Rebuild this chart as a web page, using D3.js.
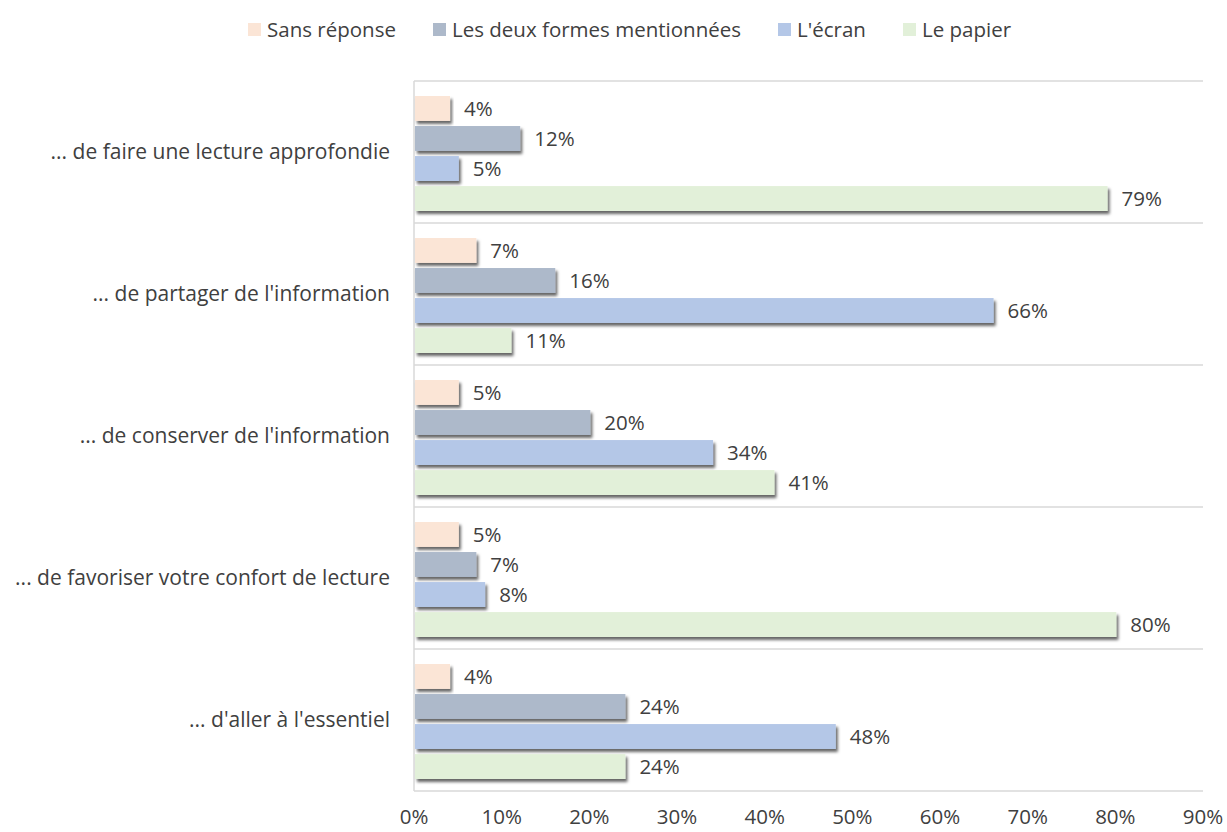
<!DOCTYPE html>
<html>
<head>
<meta charset="utf-8">
<script src="https://cdn.jsdelivr.net/npm/d3@7"></script>
<style>
  body { margin: 0; background: #fff; }
  text { font-family: "Open Sans", sans-serif; fill: #404040; }
</style>
</head>
<body>
<svg id="chart" width="1227" height="832"></svg>
<script>
// categories, top to bottom
var categories = [
  "... de faire une lecture approfondie",
  "... de partager de l'information",
  "... de conserver de l'information",
  "... de favoriser votre confort de lecture",
  "... d'aller à l'essentiel"
];
var series = ["Sans réponse", "Les deux formes mentionnées", "L'écran", "Le papier"];
var colors = ["#fbe5d6", "#adb9ca", "#b4c7e7", "#e2f0d9"];

// values per series, same order as categories
var sansReponse = [4, 7, 5, 5, 4];
var lesDeux     = [12, 16, 20, 7, 24];
var ecran       = [5, 66, 34, 8, 48];
var papier      = [79, 11, 41, 80, 24];
var values = [sansReponse, lesDeux, ecran, papier];

var ticks = [0, 10, 20, 30, 40, 50, 60, 70, 80, 90];

var svg = d3.select("#chart"),
    plotLeft = 414, plotRight = 1203, plotTop = 81, plotBottom = 791,
    fontSize = "20.5px";

var x = d3.scaleLinear().domain([0, 90]).range([plotLeft, plotRight]);
var y = d3.scaleBand().domain(categories).range([plotTop, plotBottom]);
var yInner = d3.scaleBand().domain(series).range([15, 130]).paddingInner(0.17);

// shadow filter
var defs = svg.append("defs");
var f = defs.append("filter").attr("id", "shadow")
    .attr("x", "-5%").attr("y", "-30%").attr("width", "115%").attr("height", "190%");
f.append("feDropShadow").attr("dx", 2).attr("dy", 3).attr("stdDeviation", 1.8)
    .attr("flood-color", "#000").attr("flood-opacity", 0.6);

// grid lines between categories
var bounds = categories.map(function(c) { return y(c); }).concat([plotBottom]);
svg.append("g").selectAll("line").data(bounds).join("line")
    .attr("x1", plotLeft).attr("x2", plotRight)
    .attr("y1", function(d) { return d; }).attr("y2", function(d) { return d; })
    .attr("stroke", "#d9d9d9").attr("stroke-width", 1.5);

svg.append("line")
    .attr("x1", plotLeft).attr("x2", plotLeft).attr("y1", plotTop).attr("y2", plotBottom)
    .attr("stroke", "#d9d9d9").attr("stroke-width", 1.5);

// bars
var groups = svg.append("g").selectAll("g").data(categories).join("g")
    .attr("transform", function(c) { return "translate(0," + y(c) + ")"; });

groups.each(function(c, ci) {
  var g = d3.select(this);
  series.forEach(function(s, si) {
    var v = values[si][ci];
    g.append("rect")
      .attr("x", x(0) + 1)
      .attr("y", yInner(s))
      .attr("width", x(v) - x(0))
      .attr("height", yInner.bandwidth())
      .attr("fill", colors[si])
      .attr("filter", "url(#shadow)");
    g.append("text")
      .attr("x", x(v) + 15)
      .attr("y", yInner(s) + yInner.bandwidth() / 2)
      .attr("dy", "0.35em")
      .style("font-size", fontSize)
      .text(v + "%");
  });
});

// category labels
svg.append("g").selectAll("text").data(categories).join("text")
    .attr("x", 390)
    .attr("y", function(c) { return y(c) + y.bandwidth() / 2; })
    .attr("dy", "0.35em")
    .attr("text-anchor", "end")
    .style("font-size", "21px")
    .text(function(c) { return c; });

// x axis tick labels
svg.append("g").selectAll("text").data(ticks).join("text")
    .attr("x", function(d) { return x(d); })
    .attr("y", 824)
    .attr("text-anchor", "middle")
    .style("font-size", fontSize)
    .text(function(d) { return d + "%"; });

// legend
var legendX = [248, 433, 778, 903];
var legend = svg.append("g").selectAll("g").data(series).join("g")
    .attr("transform", function(d, i) { return "translate(" + legendX[i] + ",23)"; });
legend.append("rect").attr("width", 13).attr("height", 13)
    .attr("fill", function(d, i) { return colors[i]; });
legend.append("text").attr("x", 19).attr("y", 7).attr("dy", "0.35em")
    .style("font-size", fontSize)
    .text(function(d) { return d; });
</script>
</body>
</html>
